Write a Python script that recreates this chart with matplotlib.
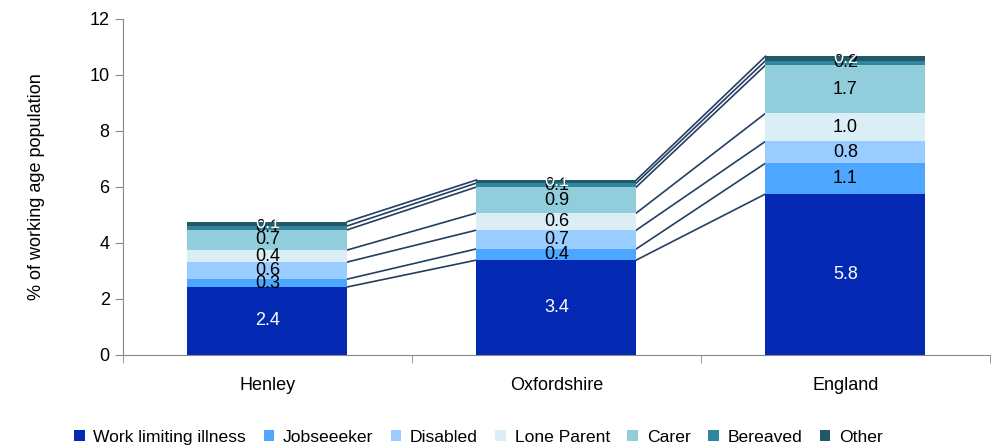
import numpy as np
import matplotlib.pyplot as plt

plt.rcParams['font.family'] = ['Liberation Sans', 'DejaVu Sans']

areas = ['Henley', 'Oxfordshire', 'England']
series = ['Work limiting illness', 'Jobseeeker', 'Disabled', 'Lone Parent',
          'Carer', 'Bereaved', 'Other']
work = [2.43, 3.39, 5.75]
jobseeker = [0.28, 0.40, 1.10]
disabled = [0.61, 0.67, 0.78]
lone_parent = [0.43, 0.61, 1.00]
carer = [0.72, 0.93, 1.72]
bereaved = [0.14, 0.14, 0.16]
other = [0.15, 0.11, 0.16]
values = [work, jobseeker, disabled, lone_parent, carer, bereaved, other]
colours = ['#0329B3', '#4DA6FF', '#99CCFF', '#DCEEF5', '#92CDDC', '#31859C', '#215968']
label_colours = ['white', 'black', 'black', 'black', 'black', 'black', 'white']

fig = plt.figure(figsize=(10.07, 4.48), dpi=100)
ax = fig.add_axes([0.122, 0.2076, 0.861, 0.75])

x = np.arange(len(areas))
w = 0.553
bottom = np.zeros(len(areas))
tops = []
for name, vals, col, lc in zip(series, values, colours, label_colours):
    vals = np.array(vals)
    ax.bar(x, vals, w, bottom=bottom, color=col, label=name, zorder=2)
    for xi, b, v in zip(x, bottom, vals):
        ax.text(xi, b + v / 2, '%.1f' % v, ha='center', va='center',
                fontsize=13, color=lc, zorder=4)
    bottom = bottom + vals
    tops.append(bottom.copy())

# connector lines between bars
for t in tops:
    for i in range(len(areas) - 1):
        ax.plot([x[i] + w / 2, x[i + 1] - w / 2], [t[i], t[i + 1]],
                color='#253F63', lw=1.2, zorder=1)

ax.set_xlim(-0.5, 2.5)
ax.set_ylim(0, 12)
ax.set_yticks(range(0, 13, 2))
ax.set_xticks(x)
ax.set_xticklabels(areas)
ax.set_xticks([-0.5, 0.5, 1.5, 2.5], minor=True)
ax.tick_params(axis='x', which='major', length=0, pad=16, labelsize=13)
ax.tick_params(axis='x', which='minor', length=6, color='#888888')
ax.tick_params(axis='y', length=6, color='#888888', labelsize=13)
ax.set_ylabel('% of working age population', fontsize=13, labelpad=32)
for s in ['top', 'right']:
    ax.spines[s].set_visible(False)
for s in ['left', 'bottom']:
    ax.spines[s].set_color('#888888')

ax.legend(loc='upper center', bbox_to_anchor=(0.41, -0.175), ncol=7, frameon=False,
          fontsize=12.6, handlelength=0.6, handleheight=0.6, handletextpad=0.5,
          columnspacing=1.0)

fig.savefig('out.png', dpi=100)
